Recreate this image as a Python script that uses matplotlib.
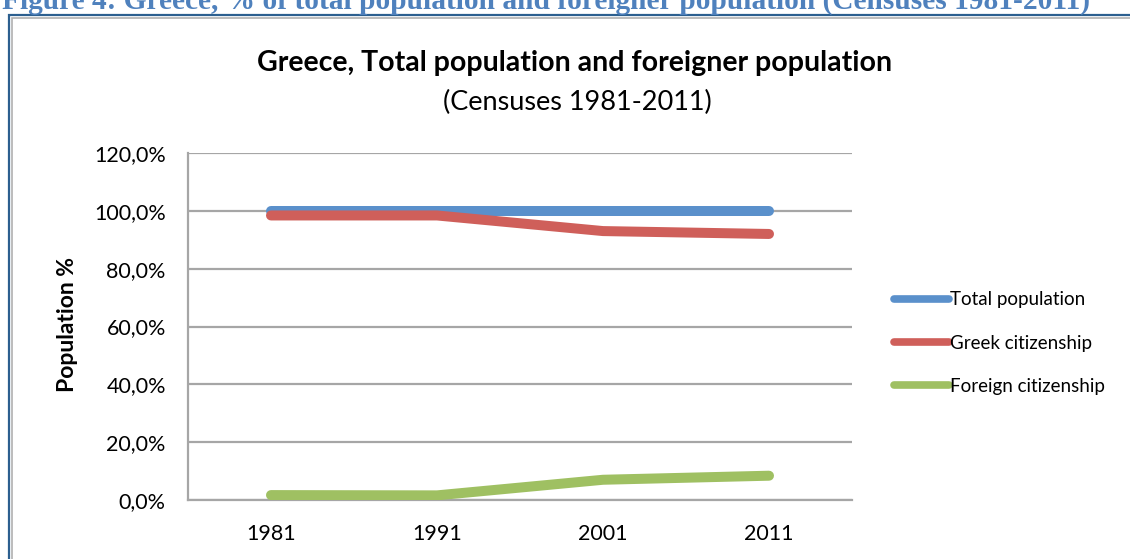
import matplotlib
matplotlib.use("Agg")
import matplotlib.pyplot as plt
from matplotlib.patches import Rectangle

plt.rcParams['font.family'] = ['Lato', 'DejaVu Sans']

years = ['1981', '1991', '2001', '2011']
total = [100.0, 100.0, 100.0, 100.0]
greek = [98.4, 98.4, 93.0, 92.0]
foreign = [1.7, 1.6, 7.0, 8.4]
series_names = ['Total population', 'Greek citizenship', 'Foreign citizenship']
colors = ['#5A90CB', '#CF5F5A', '#9FC062']
yticks = [0, 20, 40, 60, 80, 100, 120]

fig = plt.figure(figsize=(11.3, 5.59), dpi=100)

# caption of the document, cut off at the top
fig.text(0.002, 1 - 9/559., 'Figure 4: Greece, % of total population and foreigner population (Censuses 1981-2011)',
         family='Liberation Serif', weight='bold', fontsize=21.2, color='#4F81BD', va='baseline', ha='left')

# frame around the chart
fig.patches.append(Rectangle((9/1130., -0.1), 1.2, 1 - 15/559. + 0.1, transform=fig.transFigure,
                             fill=False, ec='#2C5F8F', lw=1.6, zorder=0))
fig.patches.append(Rectangle((12/1130., -0.1), 1.2, 1 - 17.5/559. + 0.1, transform=fig.transFigure,
                             fill=False, ec='#B0B0B0', lw=1.2, zorder=0))

ax = fig.add_axes([188/1130., 1 - 500/559., 664/1130., 347/559.])
x = range(len(years))
for vals, name, c in zip([total, greek, foreign], series_names, colors):
    ax.plot(x, vals, color=c, lw=7.2, solid_capstyle='round', label=name, zorder=3)

ax.set_xlim(-0.5, 3.5)
ax.set_ylim(0, 120)
ax.set_xticks(list(x))
ax.set_xticklabels(years)
ax.set_yticks(yticks)
ax.set_yticklabels(['%d,0%%' % v for v in yticks])
ax.tick_params(axis='y', length=0, pad=16, labelsize=15.5)
ax.tick_params(axis='x', length=0, pad=17, labelsize=15.5)
ax.grid(axis='y', color='#A6A6A6', lw=1.6)
ax.set_axisbelow(True)
for s in ['top', 'right']:
    ax.spines[s].set_visible(False)
for s in ['left', 'bottom']:
    ax.spines[s].set_color('#A6A6A6')
    ax.spines[s].set_linewidth(1.6)

fig.text(68/1130., 1 - 325/559., 'Population %', rotation=90, weight='bold', fontsize=16.5,
         ha='center', va='center')
fig.text(575/1130., 1 - 63/559., 'Greece, Total population and foreigner population', weight='bold',
         fontsize=20.5, ha='center', va='center')
fig.text(577/1130., 1 - 102/559., '(Censuses 1981-2011)', fontsize=19.5, ha='center', va='center')

leg = ax.legend(loc='center left', bbox_to_anchor=(894/1130., 1 - 343/559.), bbox_transform=fig.transFigure,
                frameon=False, fontsize=13.5, handlelength=2.95, handletextpad=0.05, labelspacing=1.4,
                borderaxespad=0, borderpad=0)
for line in leg.get_lines():
    line.set_linewidth(5.5)

fig.savefig('out.png', dpi=100)
